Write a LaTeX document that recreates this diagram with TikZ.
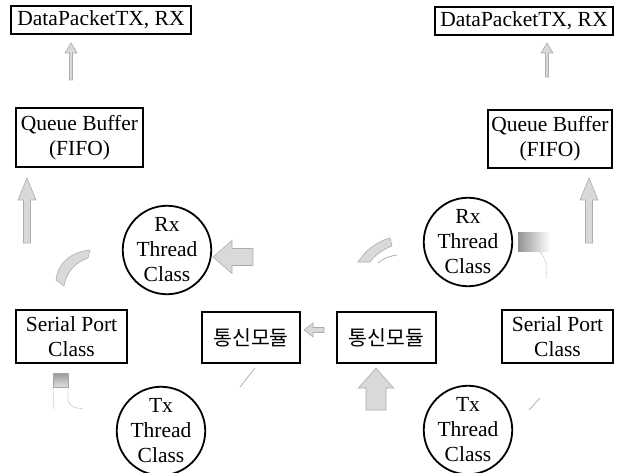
\documentclass[tikz,border=0pt]{standalone}
\usepackage{fontspec}
\setmainfont{Liberation Serif}
\newfontfamily\krfont{Noto Sans CJK KR}

% block arrow: #1 tip, #2 direction (deg), #3 length, #4 body width, #5 head width, #6 head length
\newcommand{\blockarr}[6]{%
  \begin{scope}[shift={#1}, rotate=#2]
    \filldraw[faintarrow] (0,0) -- (-#6,#5/2) -- (-#6,#4/2) -- (-#3,#4/2)
      -- (-#3,-#4/2) -- (-#6,-#4/2) -- (-#6,-#5/2) -- cycle;
  \end{scope}}

\begin{document}
\begin{tikzpicture}[x=1pt, y=-1pt,
  txt/.style={font=\fontsize{21.5}{25}\selectfont},
  box/.style={draw, line width=1.8pt, inner sep=0pt, align=center, txt},
  thread/.style={draw, circle, line width=1.8pt, minimum size=86pt, inner sep=0pt, align=center, txt},
  kbox/.style={box, font=\krfont\fontsize{20.5}{24}\selectfont},
  faintarrow/.style={fill=gray!30, draw=gray!65, line width=0.6pt},
  faintline/.style={draw=gray!60, line width=0.8pt},
]
\useasboundingbox (0,0) rectangle (619,473);

% ---- boxes and thread circles ----
\node[box, minimum width=180pt, minimum height=28pt] (dp1) at (101,20) {DataPacketTX, RX};
\node[box, minimum width=178pt, minimum height=28pt] (dp2) at (524,21) {DataPacketTX, RX};
\node[box, minimum width=127pt, minimum height=59pt] (qb1) at (79.5,137.5) {Queue Buffer\\(FIFO)};
\node[box, minimum width=124pt, minimum height=58pt] (qb2) at (550,139) {Queue Buffer\\(FIFO)};
\node[thread] (rx1) at (167,250) {Rx\\Thread\\Class};
\node[thread] (rx2) at (468,242) {Rx\\Thread\\Class};
\node[box, minimum width=111pt, minimum height=53pt] (sp1) at (71.5,336.5) {Serial Port\\Class};
\node[kbox, minimum width=98pt, minimum height=51pt] (km1) at (251,337.5) {통신모듈};
\node[kbox, minimum width=99pt, minimum height=51pt] (km2) at (386.5,337.5) {통신모듈};
\node[box, minimum width=111pt, minimum height=53pt] (sp2) at (557.5,336.5) {Serial Port\\Class};
\node[thread] (tx1) at (161,431) {Tx\\Thread\\Class};
\node[thread] (tx2) at (468,430) {Tx\\Thread\\Class};

% ---- straight block arrows ----
\blockarr{(71,43)}{90}{37}{3}{12}{10}
\blockarr{(547,43)}{90}{34}{3}{12}{10}
\blockarr{(27,178)}{90}{65}{7}{18}{22}
\blockarr{(589,178)}{90}{65}{7}{18}{22}
\blockarr{(213,257)}{180}{40}{17}{33}{19}
\blockarr{(376,368)}{90}{42}{20}{35}{20}
\blockarr{(304,330)}{180}{20}{5}{14}{9}

% ---- curved arrows ----
\filldraw[faintarrow] (56,280) .. controls (58,262) and (72,252) .. (90,250)
  -- (88,258) .. controls (76,262) and (66,272) .. (64,286) -- cycle;
\filldraw[faintarrow] (358,262) .. controls (366,250) and (376,242) .. (390,238)
  -- (392,246) .. controls (382,250) and (374,256) .. (370,262) -- cycle;
\draw[faintline] (378,263) .. controls (384,258) and (390,256) .. (397,255);

% ---- shaded arrow stubs ----
\shade[left color=gray!85, right color=white] (518,233) rectangle (550,252);
\draw[faintline, densely dotted] (540,252) .. controls (546,258) and (547,266) .. (546,278);
\shade[top color=gray!80, bottom color=gray!25] (53,373) rectangle (68,387);
\draw[gray!70, line width=0.6pt] (53,373) rectangle (68,387);
\draw[faintline, densely dotted] (53,387) -- (54,410);
\draw[faintline, densely dotted] (68,387) -- (68,400) .. controls (69,406) and (74,408) .. (83,409);

% ---- thin strokes ----
\draw[faintline] (240,387) -- (255,368);
\draw[faintline] (529,410) -- (540,398);

\end{tikzpicture}
\end{document}
